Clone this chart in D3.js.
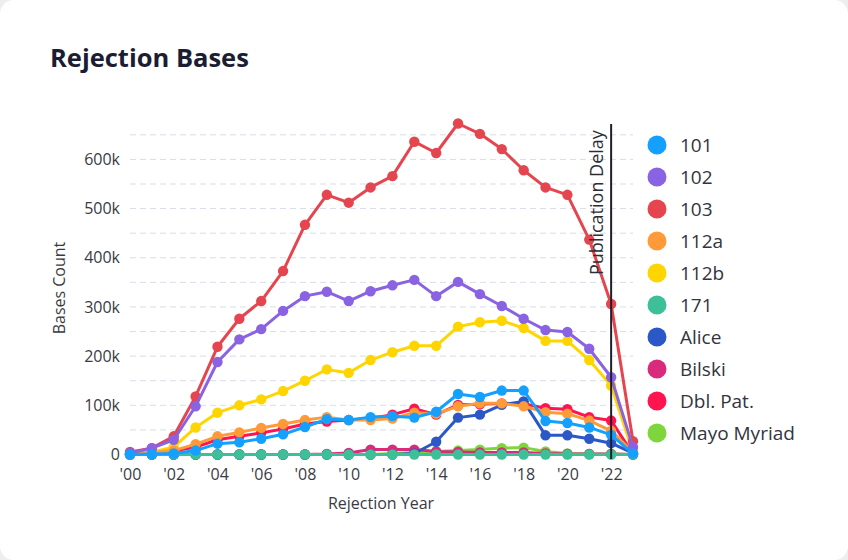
<!DOCTYPE html>
<html><head><meta charset="utf-8">
<script src="https://cdn.jsdelivr.net/npm/d3@7"></script>
<style>
body{margin:0;background:#eceef1;}
svg{display:block;font-family:"Open Sans",sans-serif;}
</style>
</head><body>
<svg id="chart" width="848" height="560"></svg>
<script>
const years = [2000,2001,2002,2003,2004,2005,2006,2007,2008,2009,2010,2011,2012,2013,2014,2015,2016,2017,2018,2019,2020,2021,2022,2023];
const xTickValues = [2000,2002,2004,2006,2008,2010,2012,2014,2016,2018,2020,2022];
const xTickLabels = ["'00","'02","'04","'06","'08","'10","'12","'14","'16","'18","'20","'22"];
const yTickValues = [0,100000,200000,300000,400000,500000,600000];
const yTickLabels = ["0","100k","200k","300k","400k","500k","600k"];
const yGridValues = [50000,100000,150000,200000,250000,300000,350000,400000,450000,500000,550000,600000,650000];

const seriesNames = ["101","102","103","112a","112b","171","Alice","Bilski","Dbl. Pat.","Mayo Myriad"];
const seriesColors = ["#14a0ff","#8a63e2","#e5454f","#ff9a38","#ffd500","#3dbf98","#2b58c6","#d92a7c","#ff1450","#7ed63c"];

const s101   = [0,1000,2000,8000,22000,25000,32000,41000,56000,72000,70000,76000,78000,75000,87000,123000,117000,130000,130000,68000,64000,55000,40000,2000];
const s102   = [3000,13000,30000,98000,188000,234000,255000,292000,322000,331000,312000,332000,344000,355000,322000,351000,326000,302000,276000,253000,249000,215000,157000,15000];
const s103   = [5000,13000,37000,118000,219000,276000,312000,373000,467000,528000,512000,543000,566000,636000,613000,673000,652000,621000,578000,543000,528000,437000,306000,27000];
const s112a  = [1000,4000,8000,21000,37000,45000,54000,62000,70000,76000,70000,70000,73000,85000,83000,98000,104000,104000,98000,86000,83000,69000,48000,5000];
const s112b  = [1000,5000,15000,55000,85000,100000,112000,129000,150000,173000,166000,192000,208000,221000,221000,260000,269000,272000,257000,231000,231000,192000,140000,5000];
const s171   = [0,0,0,0,0,0,0,0,0,0,0,0,0,0,0,0,0,0,0,0,0,0,0,0];
const sAlice = [0,0,0,0,0,0,0,0,0,0,0,0,0,2000,26000,75000,81000,101000,108000,39000,39000,32000,23000,3000];
const sBilski= [0,0,0,0,0,0,0,0,0,1000,3000,10000,10000,10000,6000,5000,4000,4000,4000,2000,1000,1000,1000,0];
const sDbl   = [1000,5000,7000,15000,30000,37000,44000,52000,62000,67000,70000,73000,81000,93000,81000,101000,102000,104000,103000,94000,92000,76000,69000,1000];
const sMayo  = [0,0,0,0,0,0,0,0,0,0,0,0,2000,4000,6000,8000,10000,13000,14000,6000,2000,1000,1000,0];
const seriesValues = [s101,s102,s103,s112a,s112b,s171,sAlice,sBilski,sDbl,sMayo];

const delayYear = 2022;
const delayLabel = "Publication Delay";

const svg = d3.select("#chart");
svg.append("rect").attr("x",0).attr("y",0).attr("width",848).attr("height",560)
  .attr("rx",14).attr("fill","#ffffff");

svg.append("text").attr("x",50).attr("y",67).attr("font-size",25.5).attr("font-weight",700)
  .attr("fill","#1b1d33").text("Rejection Bases");

const plot = {left:130, right:633, top:124, bottom:459};
const x = d3.scaleLinear().domain([2000,2023]).range([plot.left, plot.right]);
const y = d3.scaleLinear().domain([-9150,672000]).range([plot.bottom, plot.top]);

// gridlines
svg.append("g").selectAll("line").data(yGridValues).join("line")
  .attr("x1",plot.left).attr("x2",plot.right)
  .attr("y1",d=>y(d)).attr("y2",d=>y(d))
  .attr("stroke","#d9dde8").attr("stroke-width",1).attr("stroke-dasharray","6,4");

// y axis
const yAxis = d3.axisLeft(y).tickValues(yTickValues).tickFormat((d,i)=>yTickLabels[i]).tickSize(0).tickPadding(10);
const gy = svg.append("g").attr("transform",`translate(${plot.left},0)`).call(yAxis);
gy.select(".domain").remove();
gy.selectAll("text").attr("font-size",16).attr("fill","#3a3a44").attr("font-family","Open Sans");

// x axis
const xAxis = d3.axisBottom(x).tickValues(xTickValues).tickFormat((d,i)=>xTickLabels[i]).tickSize(0).tickPadding(10);
const gx = svg.append("g").attr("transform",`translate(0,${plot.bottom})`).call(xAxis);
gx.select(".domain").remove();
gx.selectAll("text").attr("font-size",16).attr("fill","#3a3a44").attr("font-family","Open Sans");

// axis titles
svg.append("text").attr("x",381).attr("y",509).attr("text-anchor","middle")
  .attr("font-size",16).attr("fill","#3a3a44").text("Rejection Year");
svg.append("text").attr("transform","translate(65,288) rotate(-90)").attr("text-anchor","middle")
  .attr("font-size",16).attr("fill","#3a3a44").text("Bases Count");

// series (drawn in reverse so the first legend item is on top)
const line = d3.line().x((d,i)=>x(years[i])).y(d=>y(d));
const order = d3.range(seriesNames.length).reverse();
const gs = svg.append("g");
order.forEach(k=>{
  const g = gs.append("g");
  g.append("path").datum(seriesValues[k]).attr("d",line).attr("fill","none")
    .attr("stroke",seriesColors[k]).attr("stroke-width",3).attr("stroke-linejoin","round");
  g.selectAll("circle").data(seriesValues[k]).join("circle")
    .attr("cx",(d,i)=>x(years[i])).attr("cy",d=>y(d)).attr("r",5.2)
    .attr("fill",seriesColors[k]);
});

// publication delay marker
svg.append("line").attr("x1",x(delayYear)).attr("x2",x(delayYear))
  .attr("y1",plot.top).attr("y2",plot.bottom)
  .attr("stroke","#1f1f2a").attr("stroke-width",2);
svg.append("text").attr("transform",`translate(${x(delayYear)-8},275) rotate(-90)`)
  .attr("font-size",18).attr("fill","#2d2d36").text(delayLabel);

// legend
const lg = svg.append("g").attr("transform","translate(657,145)");
seriesNames.forEach((n,i)=>{
  const r = lg.append("g").attr("transform",`translate(0,${i*32})`);
  r.append("circle").attr("r",9.5).attr("fill",seriesColors[i]);
  r.append("text").attr("x",23).attr("dy","0.35em").attr("font-size",19)
    .attr("fill","#33343f").text(n);
});
</script>
</body></html>
